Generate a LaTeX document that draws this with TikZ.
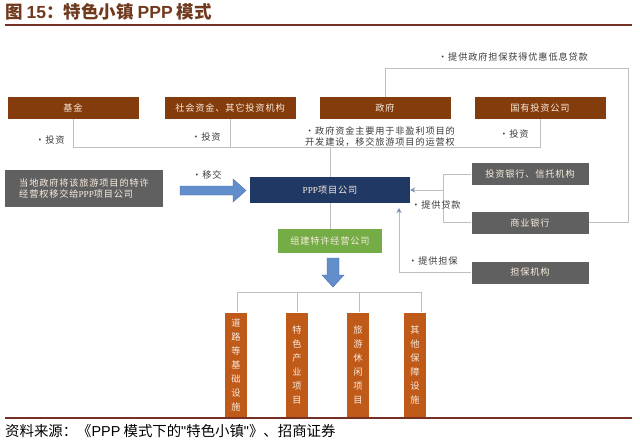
\documentclass[tikz,border=0pt]{standalone}
\usepackage{fontspec}
\setmainfont{Liberation Serif}
\newfontfamily\cjk{Noto Sans CJK SC}
\newfontfamily\cjkls[LetterSpace=9]{Noto Sans CJK SC}
\newfontfamily\arialf{Liberation Sans}
\newfontfamily\serifl{Liberation Serif}
\usetikzlibrary{arrows.meta}
\definecolor{brownbox}{RGB}{132,60,12}
\definecolor{orangebox}{RGB}{192,90,25}
\definecolor{graybox}{RGB}{96,96,96}
\definecolor{navybox}{RGB}{31,56,100}
\definecolor{greenbox}{RGB}{116,172,70}
\definecolor{boxtext}{RGB}{250,236,222}
\definecolor{lbltext}{RGB}{60,60,60}
\definecolor{linegray}{RGB}{190,190,190}
\definecolor{tipblue}{RGB}{120,145,185}
\definecolor{arrowblue}{RGB}{98,142,204}
\definecolor{arrowedge}{RGB}{70,110,170}
\definecolor{titlebrown}{RGB}{112,58,30}
\definecolor{rulebrown}{RGB}{118,48,36}
\tikzset{
  boxfont/.style={font=\cjkls\fontsize{9.2}{11}\selectfont},
  topbox/.style={boxfont, fill=brownbox, text=boxtext, minimum width=131, minimum height=22, inner sep=0},
  sidebox/.style={boxfont, fill=graybox, text=boxtext, minimum width=117, minimum height=22, inner sep=0},
  vbox/.style={font=\cjk\fontsize{9.2}{14}\selectfont, fill=orangebox, text=boxtext, minimum width=22, minimum height=105, inner sep=0, align=center},
  lbl/.style={boxfont, text=lbltext, inner sep=0},
  conn/.style={draw=linegray, line width=0.8pt},
  tipped/.style={conn, -{Stealth[length=5pt,width=5pt,color=tipblue]}},
  blockarrow/.style={fill=arrowblue, draw=arrowedge, line width=0.4pt}
}
\begin{document}
\begin{tikzpicture}[x=1pt,y=-1pt]
\fill[white] (0,0) rectangle (640,442);
\useasboundingbox (0,0) rectangle (640,442);

% title
\node[anchor=west, inner sep=0, text=titlebrown, font=\cjk\bfseries\fontsize{17.5}{19}\selectfont] (title) at (5,12)
  {图 {\arialf\bfseries 15}：特色小镇 {\arialf\bfseries PPP} 模式};
\draw[rulebrown, line width=1.4pt] (5,25) -- (632,25);

% top row
\node[topbox] (jijin) at (73,108) {基金};
\node[topbox] (shehui) at (230,108) {社会资金、其它投资机构};
\node[topbox] (zhengfu) at (385,108) {政府};
\node[topbox] (guoyou) at (540,108) {国有投资公司};

% middle
\node[boxfont, fill=graybox, text=boxtext, minimum width=158, minimum height=37, inner sep=0, align=left] (local) at (84,188.5)
  {当地政府将该旅游项目的特许\\经营权移交给{\serifl PPP}项目公司};
\node[boxfont, fill=navybox, text=boxtext, minimum width=160, minimum height=26, inner sep=0] (ppp) at (330,190) {{\serifl PPP}项目公司};
\node[sidebox] (invbank) at (530,174) {投资银行、信托机构};
\node[sidebox] (combank) at (530,222.5) {商业银行};
\node[sidebox] (danbao) at (530,272.5) {担保机构};
\node[boxfont, fill=greenbox, text=boxtext, minimum width=104, minimum height=24, inner sep=0] (green) at (330,241) {组建特许经营公司};

% bottom boxes
\node[vbox] (o1) at (236,365) {道\\路\\等\\基\\础\\设\\施};
\node[vbox] (o2) at (297,365) {特\\色\\产\\业\\项\\目};
\node[vbox] (o3) at (358,365) {旅\\游\\休\\闲\\项\\目};
\node[vbox] (o4) at (415,365) {其\\他\\保\\障\\设\\施};

% coordinates
\coordinate (topR) at (628,68);
\coordinate (bus) at (330,147);
\coordinate (brk) at (443,190);
\coordinate (gtip) at (399,208);
\coordinate (t1) at (237,292);
\coordinate (t2) at (297,292);
\coordinate (t3) at (359,292);
\coordinate (t4) at (421,292);

% connectors
\draw[conn] (zhengfu.north) |- (topR) |- (combank.east);
\draw[conn] (jijin.south) |- (bus);
\draw[conn] (guoyou.south) |- (bus);
\draw[conn] (shehui.south) -- (shehui.south |- bus);
\draw[conn] (bus) -- (ppp.north);
\draw[conn] (invbank.west) -- (invbank.west -| brk) -- (combank.west -| brk) -- (combank.west);
\draw[tipped] (brk) -- (ppp.east);
\draw[tipped] (danbao.west) -| (gtip);
\draw[conn] (ppp.south) -- (green.north);
\draw[conn] (t1) -- (t4);
\draw[conn] (t1) -- (t1 |- o1.north);
\draw[conn] (t2) -- (t2 |- o2.north);
\draw[conn] (t3) -- (t3 |- o3.north);
\draw[conn] (t4) -- (t4 |- o4.north);

% block arrows
\draw[blockarrow] (180,186) -- (233,186) -- (233,179) -- (246,190.5) -- (233,202) -- (233,195) -- (180,195) -- cycle;
\draw[blockarrow] (327,258) -- (339,258) -- (339,275) -- (344,275) -- (333,287) -- (322,275) -- (327,275) -- cycle;

% labels
\node[lbl] (l1) at (50,140) {·投资};
\node[lbl] (l2) at (206,137) {·投资};
\node[lbl] (l3) at (514,134) {·投资};
\node[lbl, anchor=west, align=left] (l4) at (305,137) {·政府资金主要用于非盈利项目的\\开发建设，移交旅游项目的运营权};
\node[lbl] (l5) at (207,175) {·移交};
\node[lbl] (l6) at (436,205) {·提供贷款};
\node[lbl] (l7) at (433,261) {·提供担保};
\node[lbl] (l8) at (513,57) {·提供政府担保获得优惠低息贷款};

% footer
\draw[rulebrown, line width=1.4pt] (5,418) -- (632,418);
\node[anchor=west, inner sep=0, font=\cjk\fontsize{14.4}{16}\selectfont] (src) at (5,431)
  {资料来源：《{\arialf PPP} 模式下的{\arialf "}特色小镇{\arialf "}》、招商证券};
\end{tikzpicture}
\end{document}
